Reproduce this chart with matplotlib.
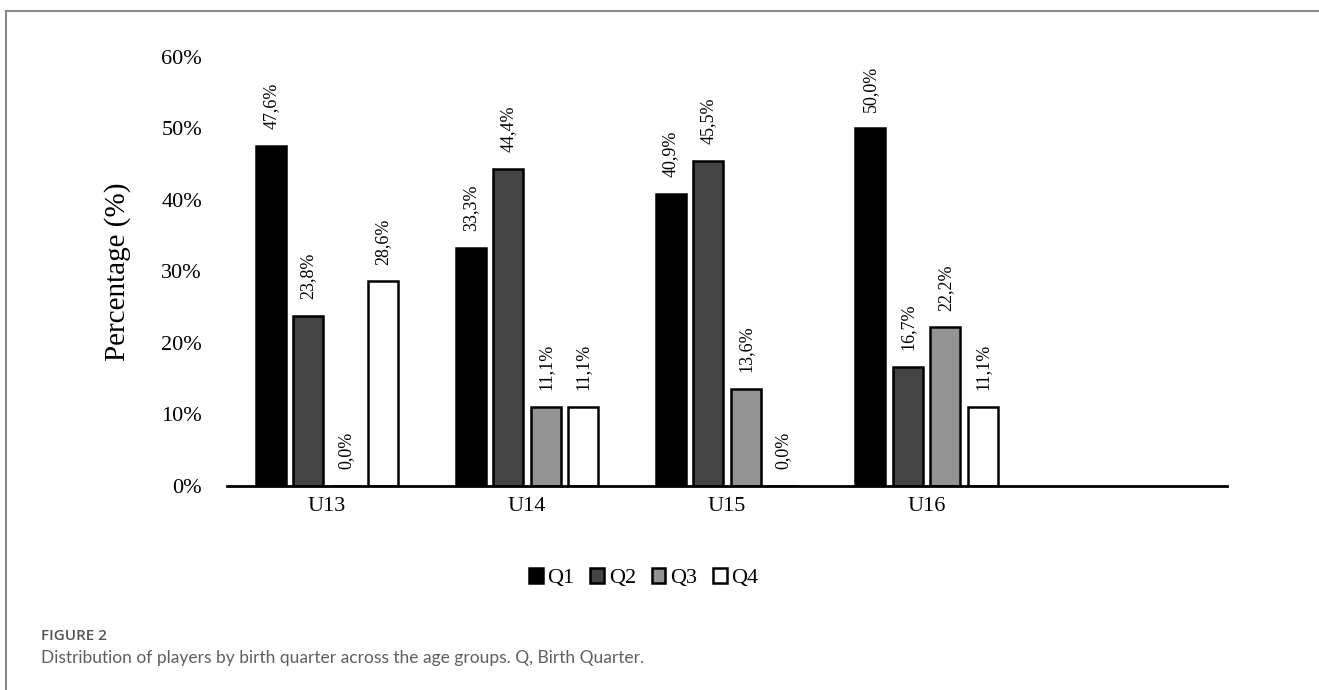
import numpy as np
import matplotlib
matplotlib.use("Agg")
import matplotlib.pyplot as plt
from matplotlib.patches import Patch
from matplotlib.lines import Line2D

# data
groups = ["U13", "U14", "U15", "U16"]
quarters = ["Q1", "Q2", "Q3", "Q4"]
q1 = [47.6, 33.3, 40.9, 50.0]
q2 = [23.8, 44.4, 45.5, 16.7]
q3 = [0.0, 11.1, 13.6, 22.2]
q4 = [28.6, 11.1, 0.0, 11.1]
colors = ["#000000", "#444444", "#939393", "#ffffff"]

plt.rcParams["font.family"] = ["Liberation Serif", "DejaVu Serif"]

fig = plt.figure(figsize=(13.19, 6.9), dpi=100)
ax = fig.add_axes([0.1721, 0.2957, 0.7578, 0.6217])

x = np.arange(len(groups))
step = 0.1875
width = 0.15
for i, (vals, col) in enumerate(zip([q1, q2, q3, q4], colors)):
    pos = x + (i - 1.5) * step
    ax.bar(pos, vals, width, color=col, edgecolor="black", linewidth=1.8)
    for p, v in zip(pos, vals):
        ax.annotate(f"{v:.1f}%".replace(".", ","), (p, v), xytext=(0, 12),
                    textcoords="offset points", rotation=90, ha="center",
                    va="bottom", fontsize=13)

ax.set_xlim(-0.5, 4.5)
ax.set_ylim(0, 60)
ax.set_yticks(range(0, 61, 10))
ax.set_yticklabels([f"{t}%" for t in range(0, 61, 10)])
ax.set_xticks(x)
ax.set_xticklabels(groups)
ax.tick_params(axis="both", length=0, labelsize=16)
ax.tick_params(axis="y", pad=18)
ax.tick_params(axis="x", pad=8)
for s in ["top", "right", "left"]:
    ax.spines[s].set_visible(False)
ax.spines["bottom"].set_linewidth(2)
ax.set_ylabel("Percentage (%)", fontsize=21, labelpad=22)

handles = [Patch(facecolor=c, edgecolor="black", linewidth=1.8) for c in colors]
fig.legend(handles, quarters, loc="center", bbox_to_anchor=(0.488, 0.162),
           ncol=4, frameon=False, fontsize=16, handlelength=0.62,
           handleheight=0.62, handletextpad=0.22, columnspacing=0.7)

# page frame
fig.add_artist(Line2D([0.0045, 1], [0.984, 0.984], color="#8a8a8a", lw=1.5,
                      transform=fig.transFigure))
fig.add_artist(Line2D([0.0045, 0.0045], [0, 0.984], color="#8a8a8a", lw=1.5,
                      transform=fig.transFigure))

fig.text(0.031, 1 - 636 / 690, "FIGURE 2", family="Open Sans", weight="semibold",
         fontsize=11, color="#555555", va="center")
fig.text(0.031, 1 - 658 / 690,
         "Distribution of players by birth quarter across the age groups. Q, Birth Quarter.",
         family=["Lato", "Open Sans"], fontsize=12.5,
         color="#5f5f5f", va="center")

fig.savefig("out.png", dpi=100)
